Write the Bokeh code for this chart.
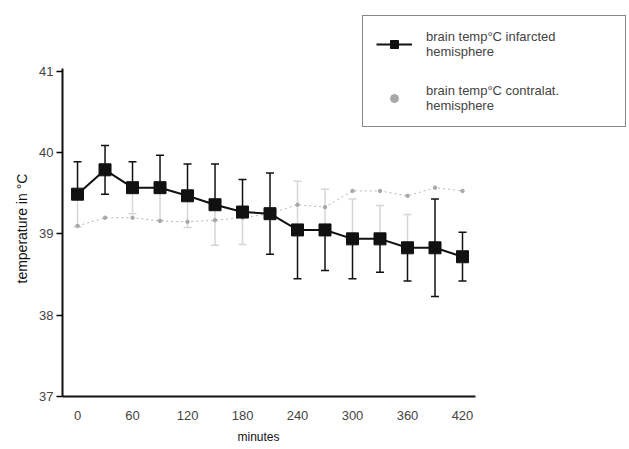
from bokeh.plotting import figure
from bokeh.models import (Range1d, ColumnDataSource, Whisker, TeeHead, Legend,
                          LegendItem, FixedTicker, Title)
from bokeh.embed import file_html
from bokeh.resources import INLINE

# ---- data ----
minutes = [0, 30, 60, 90, 120, 150, 180, 210, 240, 270, 300, 330, 360, 390, 420]
infarct_mean = [39.49, 39.79, 39.57, 39.57, 39.47, 39.36, 39.27, 39.25,
                39.05, 39.05, 38.94, 38.94, 38.83, 38.83, 38.72]
infarct_sd = [0.40, 0.30, 0.32, 0.40, 0.39, 0.50, 0.40, 0.50,
              0.60, 0.50, 0.49, 0.41, 0.41, 0.60, 0.30]
contra_mean = [39.10, 39.20, 39.20, 39.16, 39.15, 39.17, 39.20, 39.25,
               39.36, 39.33, 39.53, 39.53, 39.47, 39.57, 39.53]
x_ticks = [0, 60, 120, 180, 240, 300, 360, 420]
y_ticks = [37, 38, 39, 40, 41]

FONT = "Liberation Sans"
X0, X1 = -16.4, 602.2
Y0, Y1 = 37, 41.726

p = figure(width=629, height=449, output_backend="svg", toolbar_location=None,
           x_range=Range1d(X0, X1), y_range=Range1d(Y0, Y1),
           min_border_left=62, min_border_right=0, min_border_top=12,
           min_border_bottom=53)
p.xgrid.visible = False
p.ygrid.visible = False
p.outline_line_color = None
p.background_fill_color = "white"

# axes
xa = p.xaxis[0]
xa.ticker = FixedTicker(ticks=x_ticks)
xa.bounds = (X0, 434)
xa.axis_line_width = 2
xa.axis_line_color = "#111111"
xa.major_tick_out = 0
xa.major_tick_in = 0
xa.minor_tick_out = 0
xa.minor_tick_in = 0
xa.major_label_text_font = FONT
xa.major_label_text_font_size = "13px"
xa.major_label_standoff = 14

ya = p.yaxis[0]
ya.ticker = FixedTicker(ticks=y_ticks)
ya.bounds = (37, 41.04)
ya.axis_line_width = 2
ya.axis_line_color = "#111111"
ya.major_tick_out = 6
ya.major_tick_in = 0
ya.minor_tick_out = 0
ya.minor_tick_in = 0
ya.major_tick_line_width = 1.5
ya.major_label_text_font = FONT
ya.major_label_text_font_size = "13px"
ya.major_label_standoff = 3

# axis titles, positioned under/beside the drawn axis lines
p.add_layout(Title(text="minutes", align="left", offset=175, standoff=10,
                   text_font=FONT, text_font_size="12px",
                   text_font_style="normal", text_color="#111111"), "below")
p.add_layout(Title(text="temperature in °C", align="left", offset=113, standoff=13,
                   text_font=FONT, text_font_size="14px",
                   text_font_style="normal", text_color="#111111"), "left")

# error bars: upper/lower halves drawn separately (faint side lighter, as in the scan)
up_dark, up_light, lo_dark, lo_light = ([], [], [], [])
for m, mu, sd in zip(minutes, infarct_mean, infarct_sd):
    up = dict(x=m, base=mu, tip=mu + sd)
    lo = dict(x=m, base=mu, tip=mu - sd)
    (up_dark if (m <= 210 or m >= 390) else up_light).append(up)
    (lo_dark if (m >= 210 or m == 30) else lo_light).append(lo)


def whisk(rows, color, upper):
    src = ColumnDataSource(dict(x=[r["x"] for r in rows],
                                base=[r["base"] for r in rows],
                                tip=[r["tip"] for r in rows]))
    head = TeeHead(size=8, line_color=color, line_width=1.5)
    if upper:
        w = Whisker(source=src, base="x", lower="base", upper="tip",
                    dimension="height", line_color=color, line_width=1.5,
                    upper_head=head, lower_head=None)
    else:
        w = Whisker(source=src, base="x", lower="tip", upper="base",
                    dimension="height", line_color=color, line_width=1.5,
                    lower_head=head, upper_head=None)
    p.add_layout(w)


whisk(up_light, "#d6d6d6", True)
whisk(lo_light, "#d6d6d6", False)
whisk(up_dark, "#111111", True)
whisk(lo_dark, "#111111", False)

# contralateral series (faint in the scan)
c_line = p.line(minutes, contra_mean, line_color="#b5b5b5", line_width=1,
                line_dash="2 3")
c_pts = p.scatter(minutes, contra_mean, marker="circle", size=3.5,
                  fill_color="#a8a8a8", line_color="#a8a8a8")

# infarcted series
i_line = p.line(minutes, infarct_mean, line_color="#111111", line_width=2)
i_pts = p.scatter(minutes, infarct_mean, marker="square", size=12,
                  fill_color="#111111", line_color="#111111")

legend = Legend(items=[
    LegendItem(label="brain temp°C infarcted\nhemisphere", renderers=[i_line, i_pts]),
    LegendItem(label="brain temp°C contralat.\nhemisphere", renderers=[c_pts]),
], location="top_right", margin=3, border_line_color="#111111",
    border_line_width=1.5, background_fill_color="white", background_fill_alpha=1,
    label_text_font=FONT, label_text_font_size="13px",
    glyph_width=36, label_standoff=14, padding=13, spacing=24, label_width=186)
p.add_layout(legend)

open("out.html", "w").write(file_html(p, INLINE))
